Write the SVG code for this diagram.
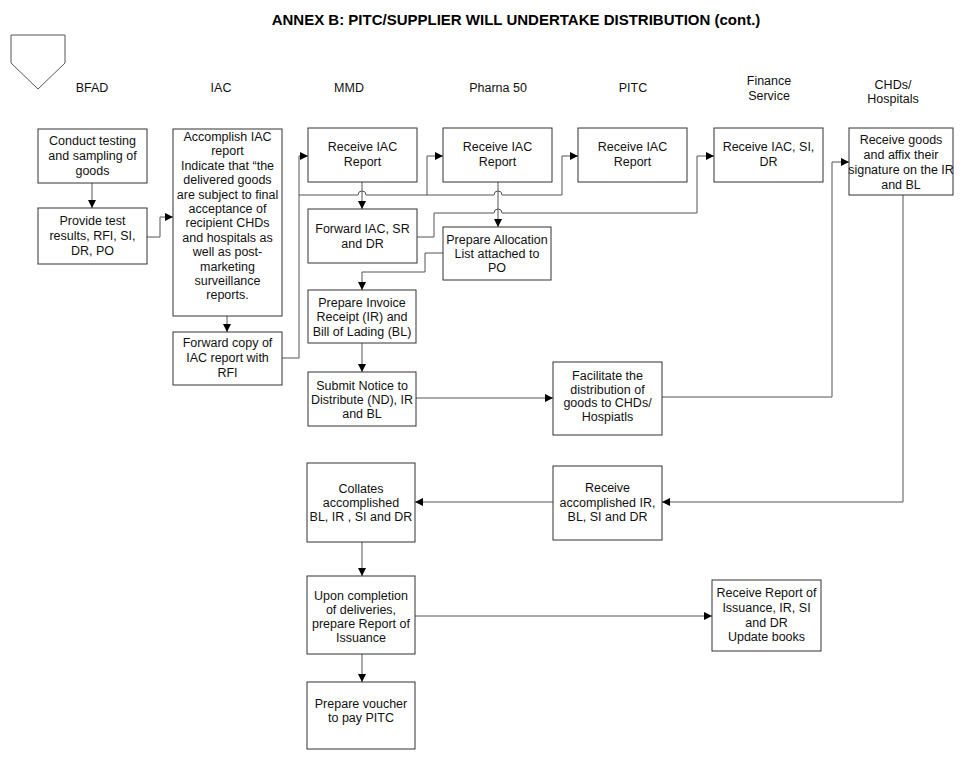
<svg xmlns="http://www.w3.org/2000/svg" width="976" height="759" viewBox="0 0 976 759">
<defs>
<marker id="ah" markerUnits="userSpaceOnUse" markerWidth="8" markerHeight="8" refX="8" refY="4" orient="auto">
<path d="M0,0 L8,4 L0,8 z" fill="#000"/>
</marker>
<style>
.box{fill:#fff;stroke:#333;stroke-width:1}
.t{font-family:"Liberation Sans",Arial,sans-serif;font-size:12.5px;fill:#111;text-anchor:middle}
.h{font-family:"Liberation Sans",Arial,sans-serif;font-size:12.5px;fill:#111;text-anchor:middle}
.title{font-family:"Liberation Sans",Arial,sans-serif;font-size:15px;font-weight:bold;fill:#000;text-anchor:middle}
.c{fill:none;stroke:#555;stroke-width:1}
.ca{fill:none;stroke:#555;stroke-width:1;marker-end:url(#ah)}
</style>
</defs>
<rect width="976" height="759" fill="#fff"/>
<text class="title" x="516" y="25">ANNEX B: PITC/SUPPLIER WILL UNDERTAKE DISTRIBUTION (cont.)</text>
<polygon points="11,35 65,35 65,63 38,89 11,63" fill="none" stroke="#555" stroke-width="1"/>
<g id="headers">
<text class="h" x="92" y="92">BFAD</text>
<text class="h" x="221" y="92">IAC</text>
<text class="h" x="349" y="92">MMD</text>
<text class="h" x="498" y="92">Pharna 50</text>
<text class="h" x="633" y="92">PITC</text>
<text class="h" x="769" y="85">Finance</text>
<text class="h" x="769" y="100">Service</text>
<text class="h" x="893" y="89">CHDs/</text>
<text class="h" x="893" y="103">Hospitals</text>
</g>
<g id="connectors">
<path class="ca" d="M92,183 V208"/>
<path class="ca" d="M147,237 H160 V217 H173"/>
<path class="ca" d="M227,316 V332"/>
<path class="ca" d="M282,358 H299 V156 H308"/>
<path class="ca" d="M299,195 H358 A4,4 0 0 1 366,195 H427 V156 H443"/>
<path class="ca" d="M427,195 H494 A4,4 0 0 1 502,195 H562 V156 H578"/>
<path class="ca" d="M362,182 V209"/>
<path class="ca" d="M498,182 V227"/>
<path class="ca" d="M417,237 H434 V213 H494 A4,4 0 0 1 502,213 H697 V156 H714"/>
<path class="ca" d="M443,253 H425 V272 H362 V290"/>
<path class="ca" d="M362,343 V372"/>
<path class="ca" d="M416,398 H553"/>
<path class="ca" d="M662,397 H832 V162 H849"/>
<path class="ca" d="M903,195 V502 H662"/>
<path class="ca" d="M553,502 H415"/>
<path class="ca" d="M362,542 V576"/>
<path class="ca" d="M415,616 H712"/>
<path class="ca" d="M362,654 V682"/>
</g>
<g id="n_conduct"><rect class="box" x="38" y="129" width="109" height="54"/>
<text class="t" x="92.5" y="145">Conduct testing</text><text class="t" x="92.5" y="160">and sampling of</text><text class="t" x="92.5" y="175">goods</text></g>
<g id="n_provide"><rect class="box" x="38" y="208" width="109" height="56"/>
<text class="t" x="92.5" y="225">Provide test</text><text class="t" x="92.5" y="240">results, RFI, SI,</text><text class="t" x="92.5" y="255">DR, PO</text></g>
<g id="n_iac"><rect class="box" x="173" y="129" width="109" height="187"/>
<text class="t" x="227.5" y="141">Accomplish IAC</text>
<text class="t" x="227.5" y="155.4">report</text>
<text class="t" x="227.5" y="169.8">Indicate that “the</text>
<text class="t" x="227.5" y="184.2">delivered goods</text>
<text class="t" x="227.5" y="198.6">are subject to final</text>
<text class="t" x="227.5" y="213">acceptance of</text>
<text class="t" x="227.5" y="227.4">recipient CHDs</text>
<text class="t" x="227.5" y="241.8">and hospitals as</text>
<text class="t" x="227.5" y="256.2">well as post-</text>
<text class="t" x="227.5" y="270.6">marketing</text>
<text class="t" x="227.5" y="285">surveillance</text>
<text class="t" x="227.5" y="299.4">reports.</text></g>
<g id="n_fwdcopy"><rect class="box" x="173" y="332" width="109" height="53"/>
<text class="t" x="227.5" y="347">Forward copy of</text><text class="t" x="227.5" y="362">IAC report with</text><text class="t" x="227.5" y="377">RFI</text></g>
<g id="n_mmd_recv"><rect class="box" x="308" y="128" width="109" height="54"/>
<text class="t" x="362.5" y="151">Receive IAC</text><text class="t" x="362.5" y="166">Report</text></g>
<g id="n_ph_recv"><rect class="box" x="443" y="128" width="109" height="54"/>
<text class="t" x="497.5" y="151">Receive IAC</text><text class="t" x="497.5" y="166">Report</text></g>
<g id="n_pitc_recv"><rect class="box" x="578" y="128" width="109" height="54"/>
<text class="t" x="632.5" y="151">Receive IAC</text><text class="t" x="632.5" y="166">Report</text></g>
<g id="n_fin_recv"><rect class="box" x="714" y="128" width="109" height="54"/>
<text class="t" x="768.5" y="151">Receive IAC, SI,</text><text class="t" x="768.5" y="166">DR</text></g>
<g id="n_chd_recv"><rect class="box" x="849" y="128" width="104" height="67"/>
<text class="t" x="901" y="144">Receive goods</text><text class="t" x="901" y="159">and affix their</text><text class="t" x="901" y="174">signature on the IR</text><text class="t" x="901" y="189">and BL</text></g>
<g id="n_fwd_iac"><rect class="box" x="308" y="209" width="109" height="54"/>
<text class="t" x="362.5" y="233">Forward IAC, SR</text><text class="t" x="362.5" y="248">and DR</text></g>
<g id="n_alloc"><rect class="box" x="443" y="227" width="108" height="53"/>
<text class="t" x="497" y="244">Prepare Allocation</text><text class="t" x="497" y="258">List attached to</text><text class="t" x="497" y="272">PO</text></g>
<g id="n_invoice"><rect class="box" x="308" y="290" width="108" height="53"/>
<text class="t" x="362" y="307">Prepare Invoice</text><text class="t" x="362" y="321">Receipt (IR) and</text><text class="t" x="362" y="336">Bill of Lading (BL)</text></g>
<g id="n_submit"><rect class="box" x="308" y="372" width="108" height="54"/>
<text class="t" x="362" y="390">Submit Notice to</text><text class="t" x="362" y="404">Distribute (ND), IR</text><text class="t" x="362" y="418">and BL</text></g>
<g id="n_facilitate"><rect class="box" x="553" y="362" width="109" height="73"/>
<text class="t" x="607.5" y="380">Facilitate the</text><text class="t" x="607.5" y="393.5">distribution of</text><text class="t" x="607.5" y="407">goods to CHDs/</text><text class="t" x="607.5" y="420.5">Hospiatls</text></g>
<g id="n_recv_acc"><rect class="box" x="553" y="466" width="109" height="74"/>
<text class="t" x="607.5" y="492">Receive</text><text class="t" x="607.5" y="507">accomplished IR,</text><text class="t" x="607.5" y="521">BL, SI and DR</text></g>
<g id="n_collates"><rect class="box" x="307" y="463" width="108" height="79"/>
<text class="t" x="361" y="493">Collates</text><text class="t" x="361" y="507">accomplished</text><text class="t" x="361" y="521">BL, IR , SI and DR</text></g>
<g id="n_upon"><rect class="box" x="307" y="576" width="108" height="78"/>
<text class="t" x="361" y="600">Upon completion</text><text class="t" x="361" y="614">of deliveries,</text><text class="t" x="361" y="628">prepare Report of</text><text class="t" x="361" y="642">Issuance</text></g>
<g id="n_voucher"><rect class="box" x="307" y="682" width="108" height="67"/>
<text class="t" x="361" y="708">Prepare voucher</text><text class="t" x="361" y="722">to pay PITC</text></g>
<g id="n_recv_report"><rect class="box" x="712" y="580" width="109" height="71"/>
<text class="t" x="766.5" y="597">Receive Report of</text><text class="t" x="766.5" y="612">Issuance, IR, SI</text><text class="t" x="766.5" y="627">and DR</text><text class="t" x="766.5" y="641">Update books</text></g>
</svg>
